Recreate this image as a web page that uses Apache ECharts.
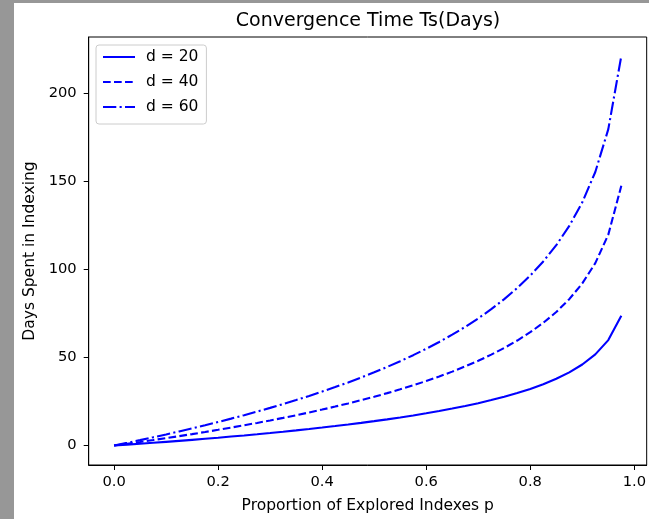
<!DOCTYPE html>
<html>
<head>
<meta charset="utf-8">
<script src="https://cdn.jsdelivr.net/npm/echarts@6/dist/echarts.min.js"></script>
<style>
  html, body { margin: 0; padding: 0; background: #fff; }
  #main { width: 649px; height: 519px; }
</style>
</head>
<body>
<div id="main"></div>
<script>
// proportion of explored indexes p
const pValues = [
  0, 0.025, 0.05, 0.075, 0.1, 0.125, 0.15, 0.175, 0.2, 0.225,
  0.25, 0.275, 0.3, 0.325, 0.35, 0.375, 0.4, 0.425, 0.45, 0.475,
  0.5, 0.525, 0.55, 0.575, 0.6, 0.625, 0.65, 0.675, 0.7, 0.725,
  0.75, 0.775, 0.8, 0.825, 0.85, 0.875, 0.9, 0.925, 0.95, 0.975,
];
// days spent
const days20 = [
  0, 0.51, 1.03, 1.56, 2.11, 2.67, 3.25, 3.85, 4.46, 5.1,
  5.75, 6.43, 7.13, 7.86, 8.62, 9.4, 10.22, 11.07, 11.96, 12.89,
  13.86, 14.89, 15.97, 17.11, 18.33, 19.62, 21.0, 22.48, 24.08, 25.82,
  27.73, 29.83, 32.19, 34.86, 37.94, 41.59, 46.05, 51.81, 59.91, 73.78,
];
const days40 = [
  0, 1.01, 2.05, 3.12, 4.21, 5.34, 6.5, 7.69, 8.93, 10.2,
  11.51, 12.86, 14.27, 15.72, 17.23, 18.8, 20.43, 22.14, 23.91, 25.77,
  27.73, 29.78, 31.94, 34.23, 36.65, 39.23, 41.99, 44.96, 48.16, 51.64,
  55.45, 59.67, 64.38, 69.72, 75.88, 83.18, 92.1, 103.61, 119.83, 147.56,
];
const days60 = [
  0, 1.52, 3.08, 4.68, 6.32, 8.01, 9.75, 11.54, 13.39, 15.29,
  17.26, 19.3, 21.4, 23.58, 25.85, 28.2, 30.65, 33.2, 35.87, 38.66,
  41.59, 44.67, 47.91, 51.34, 54.98, 58.85, 62.99, 67.44, 72.24, 77.46,
  83.18, 89.5, 96.57, 104.58, 113.83, 124.77, 138.16, 155.42, 179.74, 221.33,
];
const xTicks = [0, 0.2, 0.4, 0.6, 0.8, 1.0];
const yTicks = [0, 50, 100, 150, 200];

const font = "DejaVu Sans";
const blue = "#0000ff";

const pairs = (ys) => pValues.map((p, i) => [p, ys[i]]);

const chart = echarts.init(document.getElementById("main"));

chart.setOption({
  animation: false,
  textStyle: { fontFamily: font },
  title: {
    text: "Convergence Time Ts(Days)",
    left: 363,
    top: 7,
    textAlign: "center",
    textStyle: { fontFamily: font, fontSize: 19, fontWeight: "normal", color: "#000" },
  },
  graphic: [
    { type: "rect", left: 0, top: 0, shape: { width: 14, height: 519 }, style: { fill: "#979797" } },
    { type: "rect", left: 0, top: 0, shape: { width: 649, height: 3 }, style: { fill: "#979797" } },
  ],
  legend: {
    orient: "vertical",
    left: 96,
    top: 45,
    padding: [4, 8, 9, 6],
    itemWidth: 32,
    itemHeight: 14,
    itemGap: 9,
    itemStyle: { opacity: 0 },
    backgroundColor: "rgba(255,255,255,0.8)",
    borderColor: "#cccccc",
    borderWidth: 1,
    borderRadius: 3,
    textStyle: { fontFamily: font, fontSize: 15.5, color: "#000", padding: [0, 0, 0, 6] },
    data: ["d = 20", "d = 40", "d = 60"],
  },
  grid: {
    left: 88.7,
    top: 37,
    right: -2.8,
    bottom: 53.3,
    show: true,
    borderColor: "#000",
    borderWidth: 1,
  },
  xAxis: {
    type: "value",
    min: -0.04875,
    max: 1.02375,
    name: "Proportion of Explored Indexes p",
    nameLocation: "middle",
    nameGap: 33,
    nameTextStyle: { fontFamily: font, fontSize: 15.5, color: "#000" },
    axisLine: { show: true, onZero: false, lineStyle: { color: "#000", width: 1 } },
    axisTick: { show: true, length: 5, customValues: xTicks, lineStyle: { color: "#000" } },
    axisLabel: {
      customValues: xTicks,
      margin: 10,
      fontSize: 14.7,
      color: "#000",
      formatter: (v) => v.toFixed(1),
    },
    splitLine: { show: false },
  },
  yAxis: {
    type: "value",
    min: -11.05,
    max: 232.1,
    name: "Days Spent in Indexing",
    nameLocation: "middle",
    nameRotate: 90,
    nameGap: 46,
    nameTextStyle: { fontFamily: font, fontSize: 15.5, color: "#000" },
    axisLine: { show: true, onZero: false, lineStyle: { color: "#000", width: 1 } },
    axisTick: { show: true, length: 5, customValues: yTicks, lineStyle: { color: "#000" } },
    axisLabel: { customValues: yTicks, margin: 12, fontSize: 14.7, color: "#000" },
    splitLine: { show: false },
  },
  series: [
    {
      name: "d = 20",
      type: "line",
      symbol: "none",
      color: blue,
      lineStyle: { width: 2.1, type: "solid" },
      data: pairs(days20),
    },
    {
      name: "d = 40",
      type: "line",
      symbol: "none",
      color: blue,
      lineStyle: { width: 2.1, type: [7.7, 3.3] },
      data: pairs(days40),
    },
    {
      name: "d = 60",
      type: "line",
      symbol: "none",
      color: blue,
      lineStyle: { width: 2.1, type: [13.3, 3.3, 2.1, 3.3] },
      data: pairs(days60),
    },
  ],
});
</script>
</body>
</html>
